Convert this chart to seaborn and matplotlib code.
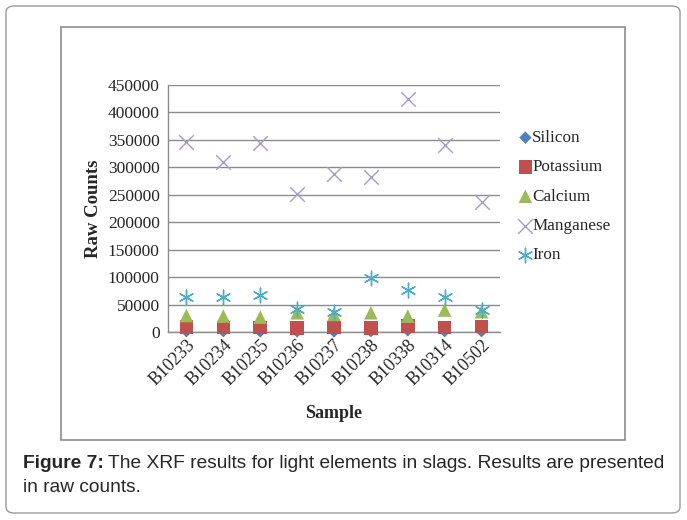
import matplotlib
matplotlib.use("Agg")
import matplotlib.pyplot as plt
import seaborn as sns
import pandas as pd
from matplotlib.patches import FancyBboxPatch, Rectangle

# data
samples = ["B10233", "B10234", "B10235", "B10236", "B10237",
           "B10238", "B10338", "B10314", "B10502"]
silicon = [1500, 1500, 1000, 1000, 1000, 1500, 3000, 1500, 1500]
potassium = [9000, 8000, 8000, 7500, 8000, 7500, 11000, 8000, 10000]
calcium = [30000, 29000, 27000, 35000, 32000, 35000, 29000, 40000, 37000]
manganese = [346000, 310000, 345000, 252000, 288000, 282000, 425000, 340000, 237000]
iron = [64000, 64000, 68000, 42000, 37000, 98000, 77000, 64000, 40000]

elements = ["Silicon", "Potassium", "Calcium", "Manganese", "Iron"]
values = [silicon, potassium, calcium, manganese, iron]
colors = ["#4F81BD", "#C0504D", "#9BBB59", "#A99BC8", "#4BACC6"]
markers = ["D", "s", "^", "x", (6, 2, 0)]
sizes = [40, 95, 95, 110, 110]

sns.set_style("white")
plt.rcParams["font.family"] = ["Liberation Serif", "DejaVu Serif"]

fig = plt.figure(figsize=(6.87, 5.20), dpi=100)
ax = fig.add_axes([168 / 687, 1 - 332 / 520, 332 / 687, 247 / 520])

for name, vals, c, m, s in zip(elements, values, colors, markers, sizes):
    df = pd.DataFrame({"Sample": samples, "Counts": vals})
    lw = 1.0 if m in ("x",) or isinstance(m, tuple) else 0
    sns.scatterplot(data=df, x="Sample", y="Counts", ax=ax, marker=m, color=c,
                    s=s, linewidth=lw, edgecolor=c if lw else "none",
                    label=name, zorder=3, clip_on=False)

ax.set_xlim(-0.5, len(samples) - 0.5)
ax.set_ylim(0, 450000)
ax.set_yticks(range(0, 450001, 50000))
ax.yaxis.grid(True, color="#8c8c8c", lw=1)
ax.tick_params(axis="y", labelsize=12.5, length=0, pad=6)
ax.tick_params(axis="x", labelsize=13, length=0, pad=3)
plt.setp(ax.get_xticklabels(), rotation=45, ha="right", rotation_mode="anchor")
for side in ["top", "right"]:
    ax.spines[side].set_visible(False)
for side in ["left", "bottom"]:
    ax.spines[side].set_color("#8c8c8c")
    ax.spines[side].set_linewidth(1)

ax.set_xlabel("Sample", fontsize=13, fontweight="bold", labelpad=12)
ax.set_ylabel("Raw Counts", fontsize=13.5, fontweight="bold", labelpad=4)

leg = ax.legend(loc="upper left", bbox_to_anchor=(1.025, 0.845), frameon=False,
                fontsize=12.3, handletextpad=-0.2, labelspacing=0.78,
                borderaxespad=0, handlelength=1.2)

# inner chart frame and outer rounded border
fig.patches.append(Rectangle((61 / 687, 1 - 440 / 520), (625 - 61) / 687, (440 - 27) / 520,
                             transform=fig.transFigure, fill=False,
                             edgecolor="#8c8c8c", lw=1.2))
fig.patches.append(FancyBboxPatch((6 / 687, 1 - 513 / 520), (680 - 6) / 687, (513 - 6) / 520,
                                  boxstyle="round,pad=0,rounding_size=0.012",
                                  transform=fig.transFigure, fill=False,
                                  edgecolor="#9a9a9a", lw=1.0))

cap = 13.8
t1 = fig.text(23 / 687, 1 - 463 / 520, "Figure 7:", fontsize=cap, fontweight="bold",
              family="Liberation Sans", va="center")
fig.canvas.draw()
bb = t1.get_window_extent()
fig.text((bb.x1 + 4) / 687, 1 - 463 / 520,
         "The XRF results for light elements in slags. Results are presented",
         fontsize=cap, family="Liberation Sans", va="center")
fig.text(23 / 687, 1 - 487 / 520, "in raw counts.", fontsize=cap,
         family="Liberation Sans", va="center")

fig.savefig("out.png", dpi=100)
